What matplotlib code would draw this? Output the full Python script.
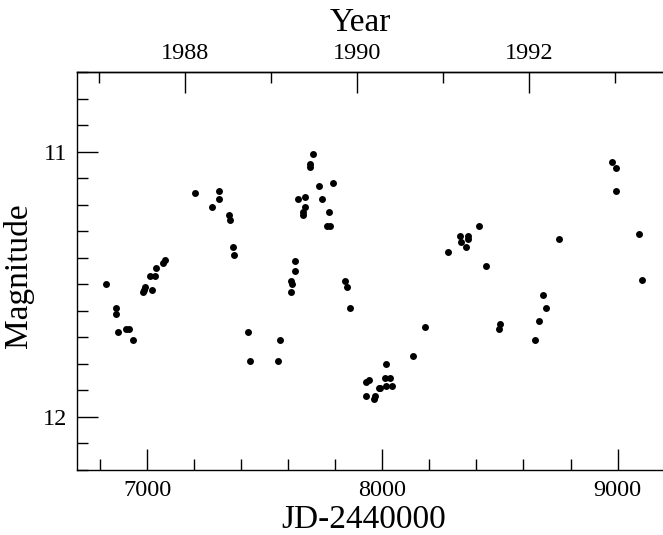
import numpy as np
import matplotlib.pyplot as plt
from matplotlib.ticker import MultipleLocator, FixedLocator

# Light curve
jd = [6824, 6866, 6868, 6875, 6908, 6924, 6938, 6982, 6986, 6989,
      7013, 7022, 7035, 7038, 7067, 7077, 7204, 7275, 7303, 7305,
      7349, 7353, 7365, 7367, 7427, 7437, 7555, 7566, 7612, 7613,
      7617, 7627, 7629, 7643, 7663, 7663, 7669, 7672, 7691, 7694,
      7703, 7729, 7743, 7765, 7771, 7778, 7788, 7842, 7851, 7862,
      7929, 7930, 7945, 7966, 7968, 7984, 7991, 8011, 8014, 8017,
      8032, 8040, 8128, 8180, 8277, 8331, 8334, 8355, 8362, 8365,
      8412, 8442, 8497, 8501, 8648, 8668, 8684, 8694, 8751, 8977,
      8992, 8995, 9093, 9102]
mag = [11.499, 11.611, 11.588, 11.680, 11.670, 11.670, 11.710, 11.530, 11.520, 11.510,
       11.470, 11.520, 11.470, 11.439, 11.420, 11.408, 11.157, 11.209, 11.177, 11.148,
       11.238, 11.258, 11.359, 11.389, 11.680, 11.790, 11.790, 11.710, 11.530, 11.488,
       11.499, 11.410, 11.449, 11.179, 11.228, 11.239, 11.209, 11.170, 11.058, 11.047,
       11.008, 11.128, 11.179, 11.278, 11.228, 11.278, 11.118, 11.488, 11.510, 11.590,
       11.870, 11.921, 11.859, 11.933, 11.921, 11.891, 11.891, 11.852, 11.800, 11.882,
       11.852, 11.882, 11.771, 11.660, 11.378, 11.319, 11.339, 11.359, 11.319, 11.329,
       11.278, 11.429, 11.670, 11.650, 11.710, 11.639, 11.540, 11.590, 11.329, 11.039,
       11.061, 11.146, 11.310, 11.483]

year_major = [1988, 1990, 1992]
year_minor = [1987, 1989, 1991, 1993]

plt.rcParams['font.family'] = ['Liberation Serif', 'DejaVu Serif']

fig = plt.figure(figsize=(6.63, 5.35), dpi=100)
ax = fig.add_axes([0.1157, 0.1215, 0.8867, 0.7434])

ax.plot(jd, mag, 'o', color='black', ms=5, mec='none')

ax.set_xlim(6700, 9200)
ax.set_ylim(12.2, 10.7)
ax.spines['right'].set_visible(False)
for s in ('left', 'bottom', 'top'):
    ax.spines[s].set_linewidth(1.0)

ax.xaxis.set_major_locator(FixedLocator([7000, 8000, 9000]))
ax.xaxis.set_minor_locator(MultipleLocator(200))
ax.yaxis.set_major_locator(FixedLocator([11, 12]))
ax.yaxis.set_minor_locator(MultipleLocator(0.1))
ax.tick_params(which='both', direction='in', top=False, right=False, width=1.0)
ax.tick_params(which='major', length=15, labelsize=17.5, pad=7)
ax.tick_params(which='minor', length=8)

ax.set_xlabel('JD-2440000', fontsize=24)
ax.xaxis.set_label_coords(0.489, -0.088)
ax.xaxis.label.set_va('top')
ax.set_ylabel('Magnitude', fontsize=24)
ax.yaxis.set_label_coords(-0.073, 0.488)


def jd2yr(x):
    return 1988 + (np.asarray(x) - 7161.5) / 365.25


def yr2jd(y):
    return 7161.5 + (np.asarray(y) - 1988) * 365.25


top = ax.secondary_xaxis('top', functions=(jd2yr, yr2jd))
top.xaxis.set_major_locator(FixedLocator(year_major))
top.xaxis.set_minor_locator(FixedLocator(year_minor))
top.tick_params(which='both', direction='in', width=1.0)
top.tick_params(which='major', length=15, labelsize=17.5, pad=6)
top.tick_params(which='minor', length=8)
top.spines['top'].set_linewidth(1.0)
top.set_xlabel('Year', fontsize=24)
top.xaxis.set_label_coords(0.482, 1.162, transform=ax.transAxes)
top.xaxis.label.set_va('top')

fig.savefig('out.png', dpi=100)
